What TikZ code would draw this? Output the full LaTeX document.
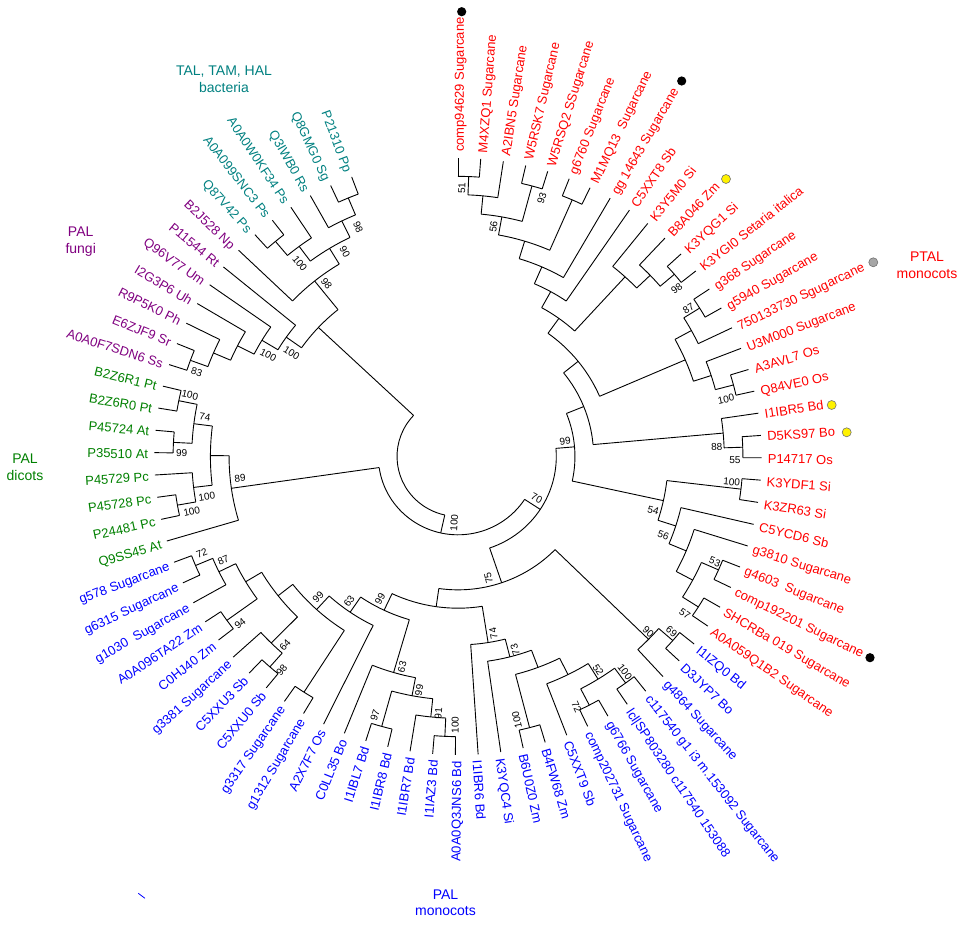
\documentclass[tikz,border=0pt]{standalone}
\usepackage{fontspec}
\setmainfont{Liberation Sans}
\definecolor{ptalred}{RGB}{255,0,0}
\definecolor{palblue}{RGB}{0,0,255}
\definecolor{dicotgreen}{RGB}{0,128,0}
\definecolor{fungipurple}{RGB}{128,0,128}
\definecolor{bactteal}{RGB}{0,128,128}

\tikzset{
  branch/.style={line width=0.9pt},
  leaf/.style={font=\fontsize{13}{15}\selectfont, inner sep=0pt, text height=12pt, text depth=0pt},
  boot/.style={font=\fontsize{10}{12}\selectfont, inner sep=0pt, text height=7.2pt, text depth=0pt},
  group/.style={font=\fontsize{14}{16.7}\selectfont, align=center, inner sep=0pt},
  dotblack/.style={circle, fill=black, minimum size=9.2pt, inner sep=0pt},
  dotyellow/.style={circle, fill=yellow, draw=black!55, line width=0.6pt, minimum size=9pt, inner sep=0pt},
  dotgrey/.style={circle, fill=black!35, draw=black!55, line width=0.6pt, minimum size=9pt, inner sep=0pt}
}

% clade: name, angle, levels, parent levels, arc from, arc to
\newcommand{\clade}[6]{%
  \pgfmathsetmacro{\rout}{298.5-18.35*#3}%
  \pgfmathsetmacro{\rin}{298.5-18.35*#4}%
  \coordinate (#1) at (#2:\rout pt);
  \draw[branch] (#2:\rin pt) -- (#1);
  \draw[branch] (#5:\rout pt) arc[start angle=#5, end angle=#6, radius=\rout pt];
}

\begin{document}
\begin{tikzpicture}
\useasboundingbox (-458pt,-467.5pt) rectangle (506pt,456.5pt);

\begin{scope}[xscale=1.017]
% root
\coordinate (root) at (197.1:59.95pt);
\draw[branch] (136.76:59.95pt) arc[start angle=136.76, end angle=257.47, radius=59.95pt];

% PTAL monocots, upper part
\clade{n51}{87.85}{1}{2}{90}{85.70}
\clade{p1}{84.63}{2}{3}{87.85}{81.41}
\clade{n93}{74.96}{1}{3}{77.11}{72.81}
\clade{n56a}{79.80}{3}{4}{84.63}{74.96}
\clade{q1}{66.37}{1}{4}{68.51}{64.22}
\clade{q2}{73.08}{4}{5}{79.80}{66.37}
\clade{q3}{66.50}{5}{6}{73.08}{59.92}
\clade{q4}{61.06}{6}{7}{66.50}{55.62}
\clade{n98b}{40.58}{1}{2}{42.73}{38.43}
\clade{ne}{43.80}{2}{3}{47.03}{40.58}
\clade{nf}{47.56}{3}{7}{51.32}{43.80}
\clade{nc}{54.31}{7}{8}{61.06}{47.56}
\clade{n87}{31.99}{1}{2}{34.13}{29.84}
\clade{ng}{28.76}{2}{3}{31.99}{25.54}
\clade{n100a}{14.80}{1}{2}{16.94}{12.65}
\clade{nh}{18.02}{2}{3}{21.24}{14.80}
\clade{nd}{23.39}{3}{8}{28.76}{18.02}
\clade{nb}{38.85}{8}{9}{54.31}{23.39}
\clade{n55}{1.90}{1}{2}{4.05}{-0.25}
\clade{n88}{5.13}{2}{9}{8.35}{1.90}
\clade{na}{21.99}{9}{10}{38.85}{5.13}
% PTAL monocots, lower part
\clade{n100b}{-6.69}{1}{5}{-4.54}{-8.84}
\clade{n53}{-23.88}{1}{2}{-21.73}{-26.03}
\clade{n57}{-32.48}{1}{2}{-30.33}{-34.63}
\clade{nz}{-28.18}{2}{3}{-23.88}{-32.48}
\clade{ny}{-22.81}{3}{4}{-17.43}{-28.18}
\clade{n56b}{-17.97}{4}{5}{-13.14}{-22.81}
\clade{n54}{-12.33}{5}{10}{-6.69}{-17.97}
\clade{n99}{4.83}{10}{11}{21.99}{-12.33}

% PAL monocots
\clade{n69}{-41.07}{1}{2}{-38.92}{-43.22}
\clade{n90}{-44.30}{2}{9}{-41.07}{-47.52}
\clade{n100d}{-53.96}{1}{2}{-51.82}{-56.11}
\clade{n72}{-62.56}{1}{2}{-60.41}{-64.71}
\clade{n52}{-58.26}{2}{3}{-53.96}{-62.56}
\clade{nv}{-63.63}{3}{4}{-58.26}{-69.01}
\clade{n100c}{-75.45}{1}{4}{-73.30}{-77.60}
\clade{nw}{-69.54}{4}{5}{-63.63}{-75.45}
\clade{n73}{-75.72}{5}{6}{-69.54}{-81.90}
\clade{n74}{-80.96}{6}{8}{-75.72}{-86.20}
\clade{n100e}{-92.64}{1}{2}{-90.49}{-94.79}
\clade{n91}{-95.86}{2}{3}{-92.64}{-99.09}
\clade{n97}{-105.53}{1}{3}{-103.39}{-107.68}
\clade{n99c}{-100.70}{3}{4}{-95.86}{-105.53}
\clade{n63b}{-106.34}{4}{7}{-100.70}{-111.98}
\clade{ngg}{-122.72}{1}{5}{-120.58}{-124.87}
\clade{n98}{-131.32}{1}{2}{-129.17}{-133.47}
\clade{n64}{-134.54}{2}{4}{-131.32}{-137.77}
\clade{n94}{-144.21}{1}{3}{-142.06}{-146.36}
\clade{n72b}{-157.10}{1}{2}{-154.96}{-159.25}
\clade{n87b}{-153.88}{2}{3}{-150.66}{-157.10}
\clade{ns}{-149.04}{3}{4}{-144.21}{-153.88}
\clade{nt}{-141.79}{4}{5}{-134.54}{-149.04}
\clade{n99d}{-132.25}{5}{6}{-122.72}{-141.79}
\clade{n63c}{-124.26}{6}{7}{-116.28}{-132.25}
\clade{n99b}{-115.30}{7}{8}{-106.34}{-124.26}
\clade{nbl}{-98.13}{8}{9}{-80.96}{-115.30}
\clade{n75}{-71.22}{9}{11}{-44.30}{-98.13}
\clade{n70}{-33.19}{11}{12}{4.83}{-71.22}

% PAL dicots
\clade{n100g}{168.51}{1}{2}{166.37}{170.66}
\clade{n99e}{177.11}{1}{2}{174.96}{179.26}
\clade{n74d}{172.81}{2}{3}{168.51}{177.11}
\clade{n100h}{190.00}{1}{2}{187.85}{192.15}
\clade{n100f}{186.78}{2}{3}{183.56}{190.00}
\clade{ndc}{179.80}{3}{4}{172.81}{186.78}
\clade{n89}{188.12}{4}{12}{179.80}{196.45}
\clade{n100r}{257.47}{12}{13}{188.12}{326.81}

% PAL fungi and bacteria
\clade{n83}{159.92}{1}{2}{157.77}{162.07}
\clade{fj}{156.70}{2}{3}{153.47}{159.92}
\clade{fk}{152.94}{3}{4}{149.18}{156.70}
\clade{fl}{148.91}{4}{5}{144.88}{152.94}
\clade{fh}{144.75}{5}{6}{140.58}{148.91}
\clade{ba}{129.84}{1}{2}{127.69}{131.99}
\clade{bb}{126.62}{2}{3}{123.39}{129.84}
\clade{bd}{112.65}{1}{2}{110.50}{114.80}
\clade{be}{115.87}{2}{3}{112.65}{119.09}
\clade{bc}{121.25}{3}{4}{115.87}{126.62}
\clade{bf}{128.77}{4}{6}{121.25}{136.28}
\clade{bg}{136.76}{6}{13}{128.77}{144.75}

% leaves, right half
\foreach \idx/\hp/\col/\txt in {
  0/1/ptalred/comp94629 Sugarcane, 1/1/ptalred/M4XZQ1 Sugarcane,
  2/2/ptalred/A2IBN5 Sugarcane, 3/1/ptalred/W5RSK7 Sugarcane,
  4/1/ptalred/W5RSQ2 SSugarcane, 5/1/ptalred/g6760 Sugarcane,
  6/1/ptalred/M1MQ13\ \ Sugarcane, 7/5/ptalred/gg 14643 Sugarcane,
  8/6/ptalred/C5XXT8 Sb, 9/3/ptalred/K3Y5M0 Si,
  10/2/ptalred/B8A046 Zm, 11/1/ptalred/K3YQG1 Si,
  12/1/ptalred/K3YGI0 Setaria italica, 13/1/ptalred/g368 Sugarcane,
  14/1/ptalred/g5940 Sugarcane, 15/2/ptalred/750133730 Sgugarcane,
  16/2/ptalred/U3M000 Sugarcane, 17/1/ptalred/A3AVL7 Os,
  18/1/ptalred/Q84VE0 Os, 19/2/ptalred/I1IBR5 Bd,
  20/1/ptalred/D5KS97 Bo, 21/1/ptalred/P14717 Os,
  22/1/ptalred/K3YDF1 Si, 23/1/ptalred/K3ZR63 Si,
  24/4/ptalred/C5YCD6 Sb, 25/3/ptalred/g3810 Sugarcane,
  26/1/ptalred/g4603\ \ Sugarcane, 27/1/ptalred/comp192201 Sugarcane,
  28/1/ptalred/SHCRBa 019 Sugarcane, 29/1/ptalred/A0A059Q1B2 Sugarcane,
  30/1/palblue/I1IZQ0 Bd, 31/1/palblue/D3JYP7 Bo,
  32/2/palblue/g4864 Sugarcane, 33/1/palblue/c117540 g1 i3 m.153092 Sugarcane,
  34/1/palblue/lcl|SP803280 c117540 153088, 35/1/palblue/g6766 Sugarcane,
  36/1/palblue/comp202731 Sugarcane, 37/3/palblue/C5XXT9 Sb,
  38/1/palblue/B4FW68 Zm, 39/1/palblue/B6U0Z0 Zm,
  40/5/palblue/K3YQC4 Si, 41/6/palblue/I1IBR6 Bd}{
  \pgfmathsetmacro{\ang}{90-4.29747*\idx}
  \pgfmathsetmacro{\rin}{298.5-18.35*\hp}
  \coordinate (leaf\idx) at (\ang:298.5pt);
  \draw[branch] (\ang:\rin pt) -- (leaf\idx);
  \node[leaf, text=\col, anchor=west, rotate=\ang] (lab\idx) at (\ang:304.5pt) {\txt};
}

% leaves, left half
\foreach \idx/\hp/\col/\txt in {
  42/1/palblue/A0A0Q3JNS6 Bd, 43/1/palblue/I1IAZ3 Bd,
  44/2/palblue/I1IBR7 Bd, 45/1/palblue/I1IBR8 Bd,
  46/1/palblue/I1IBL7 Bd, 47/4/palblue/C0LL35 Bo,
  48/6/palblue/A2X7F7 Os, 49/1/palblue/g1312 Sugarcane,
  50/1/palblue/g3317 Sugarcane, 51/1/palblue/C5XXU0 Sb,
  52/1/palblue/C5XXU3 Sb, 53/2/palblue/g3381 Sugarcane,
  54/1/palblue/C0HJ40 Zm, 55/1/palblue/A0A096TA22 Zm,
  56/2/palblue/g1030\ \ Sugarcane, 57/1/palblue/g6315 Sugarcane,
  58/1/palblue/g578 Sugarcane,
  59/4/dicotgreen/Q9SS45 At, 60/1/dicotgreen/P24481 Pc,
  61/1/dicotgreen/P45728 Pc, 62/2/dicotgreen/P45729 Pc,
  63/1/dicotgreen/P35510 At, 64/1/dicotgreen/P45724 At,
  65/1/dicotgreen/B2Z6R0 Pt, 66/1/dicotgreen/B2Z6R1 Pt,
  67/1/fungipurple/A0A0F7SDN6 Ss, 68/1/fungipurple/E6ZJF9 Sr,
  69/2/fungipurple/R9P5K0 Ph, 70/3/fungipurple/I2G3P6 Uh,
  71/4/fungipurple/Q96V77 Um, 72/5/fungipurple/P11544 Rt,
  73/4/fungipurple/B2J528 Np,
  74/1/bactteal/Q87V42 Ps, 75/1/bactteal/A0A099SNC3 Ps,
  76/2/bactteal/A0A0W0KF34 Ps, 77/2/bactteal/Q3IWB0 Rs,
  78/1/bactteal/Q8GMG0 Sg, 79/1/bactteal/P21310 Pp}{
  \pgfmathsetmacro{\ang}{90-4.29747*\idx}
  \pgfmathsetmacro{\rin}{298.5-18.35*\hp}
  \coordinate (leaf\idx) at (\ang:298.5pt);
  \draw[branch] (\ang:\rin pt) -- (leaf\idx);
  \node[leaf, text=\col, anchor=east, rotate=\ang+180] (lab\idx) at (\ang:304.5pt) {\txt};
}
\end{scope}

% bootstrap values
\foreach \bx/\by/\rot/\val [count=\n] in {
  3.7/268.2/89.2/51, 35.3/229.8/81.3/56, 83.7/258.2/72/93,
  218.7/168.2/37.6/98, 230.3/148.2/32.8/87, 268/57.5/12.1/100,
  258.7/9.8/2.2/88, 277/-3.5/-0.7/55, 107/15.5/8.2/99,
  78.7/-41.8/-28/70, 30.3/-121.8/104/75, -4/-66.5/86.6/100,
  273.7/-25.2/-5.3/100, 195.3/-53.5/-15.3/54, 205.3/-78.5/-20.9/56,
  257/-105.2/-22.3/53, 227/-156.8/-34.6/57,
  190.3/-175.2/-42.6/90, 213.7/-175.2/-39.3/69, 167/-215.2/-52.2/100,
  140.3/-213.5/-56.7/52, 118.7/-250.2/-64.6/72, 58.7/-263.5/102.6/100,
  57/-193.5/106.4/73, 35.3/-176.8/101.3/74, -3/-268.5/89.4/100,
  -19.7/-256.8/85.6/91, -39/-233.5/80.5/99, -83/-258.5/72.2/97,
  -56/-210.5/75.1/63, -78/-142.5/61.3/99, -109/-144.5/53/63,
  -140/-140.5/45.1/99, -173/-188.5/47.5/64, -176.3/-213.5/50.5/98,
  -218/-166.8/37.4/94, -234.7/-103.5/23.8/87, -256.3/-96.8/20.7/72,
  -218/-21.8/5.7/89, -268/61.5/-12.9/100, -253/39.8/-8.9/74,
  -276.3/3.2/-0.7/99, -251.3/-40.2/9.1/100, -266.3/-55.2/11.7/100,
  -261.3/84.8/-18/83, -189.7/101.5/-28.2/100, -166.3/103.2/-31.8/100,
  -158/193.2/-50.7/100, -113/204.8/-61.1/90, -99.7/229.8/-66.5/98,
  -131.3/173.2/-52.8/98}
  \node[boot, rotate=\rot] (bs\n) at (\bx pt,\by pt) {\val};

% marked sequences
\node[dotblack] (dot0) at (3.7pt,444.8pt) {};
\node[dotblack] (dot7) at (223.7pt,375.5pt) {};
\node[dotyellow] (dot10) at (268pt,277.5pt) {};
\node[dotgrey] (dot15) at (415.3pt,194.2pt) {};
\node[dotyellow] (dot19) at (373.7pt,51.5pt) {};
\node[dotyellow] (dot20) at (388.7pt,24.2pt) {};
\node[dotblack] (dot28) at (412pt,-201.2pt) {};

% group names
\node[group, text=bactteal] (gbact) at (-234pt,377pt) {TAL, TAM, HAL\\bacteria};
\node[group, text=fungipurple] (gfungi) at (-377.3pt,214.7pt) {PAL\\fungi};
\node[group, text=dicotgreen] (gdicot) at (-433pt,-11pt) {PAL\\dicots};
\node[group, text=ptalred] (gptal) at (469pt,191.2pt) {PTAL\\monocots};
\node[group, text=palblue] (gpal) at (-12.5pt,-446.2pt) {PAL\\monocots};
\draw[palblue, line width=0.8pt] (-319.7pt,-436.8pt) -- (-313pt,-441.8pt);
\end{tikzpicture}
\end{document}
